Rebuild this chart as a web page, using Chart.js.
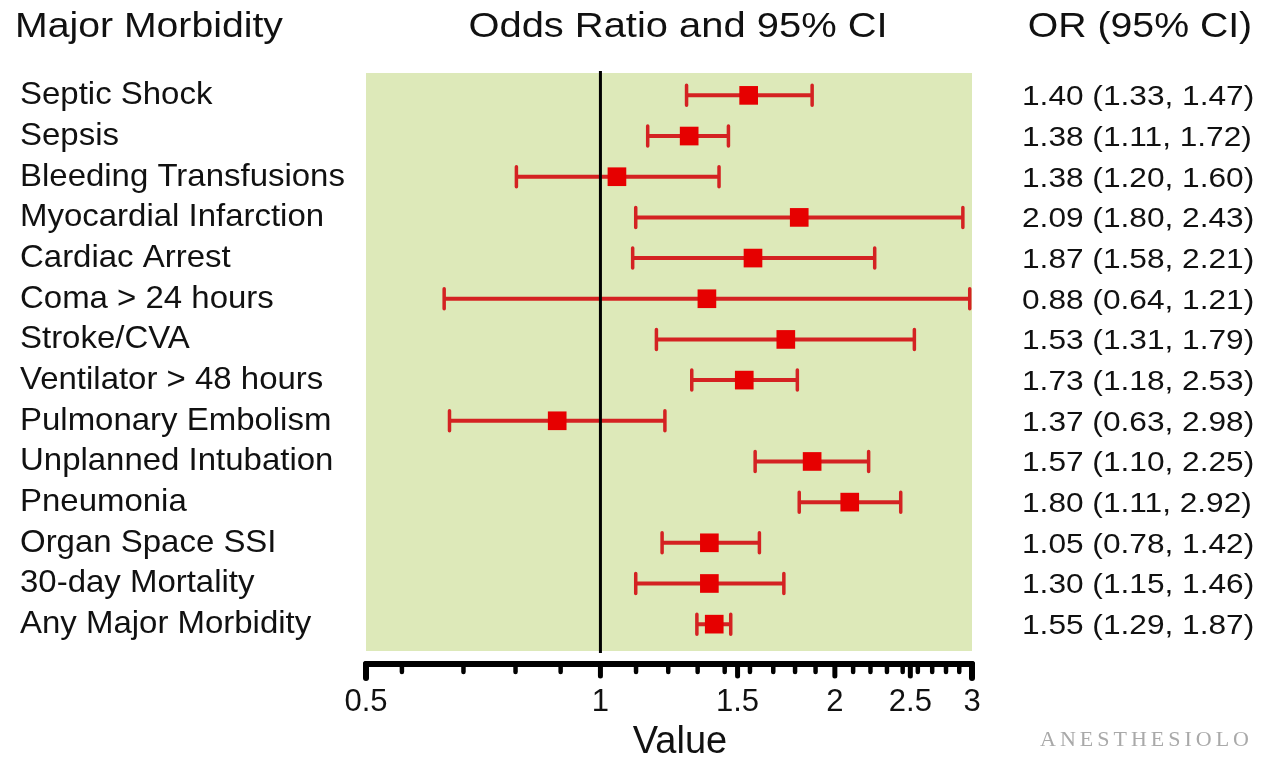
<!DOCTYPE html>
<html>
<head>
<meta charset="utf-8">
<title>Major Morbidity - Odds Ratio and 95% CI</title>
<script src="https://cdn.jsdelivr.net/npm/chart.js"></script>
<style>
    html, body { margin: 0; padding: 0; background: #ffffff; }
    #chart { display: block; }
</style>
</head>
<body>
<canvas id="chart" width="1266" height="758"></canvas>
<script>
// Rows, top to bottom
const categories = [
    'Septic Shock', 'Sepsis', 'Bleeding Transfusions', 'Myocardial Infarction',
    'Cardiac Arrest', 'Coma > 24 hours', 'Stroke/CVA', 'Ventilator > 48 hours',
    'Pulmonary Embolism', 'Unplanned Intubation', 'Pneumonia', 'Organ Space SSI',
    '30-day Mortality', 'Any Major Morbidity'
];

// Plotted odds ratios and CI bounds, one per row (top to bottom)
const oddsRatio = [1.55, 1.30, 1.05, 1.80, 1.57, 1.37, 1.73, 1.53, 0.88, 1.87, 2.09, 1.38, 1.38, 1.40];
const ciLower   = [1.29, 1.15, 0.78, 1.11, 1.10, 0.63, 1.18, 1.31, 0.64, 1.58, 1.80, 1.20, 1.11, 1.33];
const ciUpper   = [1.87, 1.46, 1.42, 2.92, 2.25, 2.98, 2.53, 1.79, 1.21, 2.21, 2.43, 1.60, 1.72, 1.47];

// x axis ticks (log scale)
const majorTicks = [0.5, 1, 1.5, 2, 2.5, 3];
const minorTicks = [0.556, 0.667, 0.778, 0.889, 1.111, 1.222, 1.333, 1.444, 1.556, 1.667,
                    1.778, 1.889, 2.111, 2.222, 2.333, 2.444, 2.556, 2.667, 2.778, 2.889];

const FONT = '"Liberation Sans", Arial, Helvetica, sans-serif';
const GREEN = '#dde9b9';
const RED_BOX = '#e60000';
const RED_LINE = '#d42222';

// the OR column in the figure runs bottom-up relative to the rows
const ciText = categories.map((c, i) => {
    const j = categories.length - 1 - i;
    return oddsRatio[j].toFixed(2) + ' (' + ciLower[j].toFixed(2) + ', ' + ciUpper[j].toFixed(2) + ')';
});

function wideText(ctx, text, x, y, size, sx, align) {
    ctx.save();
    ctx.font = size + 'px ' + FONT;
    ctx.textBaseline = 'alphabetic';
    ctx.textAlign = align || 'left';
    ctx.translate(x, y);
    ctx.scale(sx, 1);
    ctx.fillText(text, 0, 0);
    ctx.restore();
}

const forestPlugin = {
    id: 'forest',
    beforeDatasetsDraw(chart) {
        const ctx = chart.ctx;
        const area = chart.chartArea;
        const xs = chart.scales.x;
        const ys = chart.scales.y;

        // plot background
        ctx.save();
        ctx.fillStyle = GREEN;
        ctx.fillRect(area.left, area.top, area.right - area.left, area.bottom - area.top);

        // confidence intervals
        ctx.strokeStyle = RED_LINE;
        ctx.lineCap = 'butt';
        categories.forEach((c, i) => {
            const y = ys.getPixelForValue(i);
            const x0 = xs.getPixelForValue(ciLower[i]);
            const x1 = xs.getPixelForValue(ciUpper[i]);
            ctx.lineWidth = 4;
            ctx.beginPath();
            ctx.moveTo(x0, y);
            ctx.lineTo(x1, y);
            ctx.stroke();
            ctx.lineWidth = 3.5;
            ctx.lineCap = 'round';
            ctx.beginPath();
            ctx.moveTo(x0, y - 10);
            ctx.lineTo(x0, y + 10);
            ctx.moveTo(x1, y - 10);
            ctx.lineTo(x1, y + 10);
            ctx.stroke();
            ctx.lineCap = 'butt';
        });

        // line of no effect
        const x1 = xs.getPixelForValue(1);
        ctx.strokeStyle = '#000000';
        ctx.lineWidth = 3;
        ctx.beginPath();
        ctx.moveTo(x1, area.top - 2);
        ctx.lineTo(x1, area.bottom + 2);
        ctx.stroke();
        ctx.restore();
    },
    afterDraw(chart) {
        const ctx = chart.ctx;
        const area = chart.chartArea;
        const xs = chart.scales.x;
        const ys = chart.scales.y;

        ctx.save();
        ctx.fillStyle = '#111111';

        // headers
        wideText(ctx, 'Major Morbidity', 15, 37, 35, 1.12, 'left');
        wideText(ctx, 'Odds Ratio and 95% CI', 678, 37, 35, 1.14, 'center');
        wideText(ctx, 'OR (95% CI)', 1140, 37, 35, 1.12, 'center');

        // row labels and OR text
        categories.forEach((c, i) => {
            const y = ys.getPixelForValue(i);
            wideText(ctx, c, 20, y + 9, 32, 1.03, 'left');
            wideText(ctx, ciText[i], 1022, y + 10, 28, 1.13, 'left');
        });

        // x axis
        const axisY = 664;
        ctx.strokeStyle = '#000000';
        ctx.lineCap = 'round';
        ctx.lineWidth = 6;
        ctx.beginPath();
        ctx.moveTo(area.left, axisY);
        ctx.lineTo(area.right, axisY);
        ctx.stroke();

        ctx.lineWidth = 4.5;
        minorTicks.forEach(v => {
            const x = xs.getPixelForValue(v);
            ctx.beginPath();
            ctx.moveTo(x, axisY);
            ctx.lineTo(x, axisY + 8);
            ctx.stroke();
        });
        majorTicks.forEach((v, k) => {
            const x = xs.getPixelForValue(v);
            const end = (k === 0 || k === majorTicks.length - 1);
            ctx.lineWidth = end ? 6 : 5;
            ctx.beginPath();
            ctx.moveTo(x, axisY);
            ctx.lineTo(x, axisY + (end ? 14 : 12));
            ctx.stroke();
            wideText(ctx, String(v), x, 711, 31, 1.0, 'center');
        });

        wideText(ctx, 'Value', 680, 753, 38, 1.0, 'center');

        // watermark
        ctx.fillStyle = '#a9a9a9';
        ctx.font = '22px "Liberation Serif", "DejaVu Serif", serif';
        ctx.textAlign = 'left';
        ctx.letterSpacing = '4px';
        ctx.fillText('ANESTHESIOLO', 1040, 746);
        ctx.restore();
    }
};

const ctx = document.getElementById('chart').getContext('2d');
new Chart(ctx, {
    type: 'scatter',
    data: {
        datasets: [{
            label: 'Odds Ratio',
            data: categories.map((c, i) => ({ x: oddsRatio[i], y: i })),
            pointStyle: 'rect',
            pointRadius: 13.2,
            pointHoverRadius: 13.2,
            backgroundColor: RED_BOX,
            borderColor: RED_BOX,
            borderWidth: 0
        }]
    },
    options: {
        responsive: false,
        animation: false,
        layout: { padding: { left: 366, right: 294, top: 73, bottom: 107 } },
        plugins: {
            legend: { display: false },
            tooltip: { enabled: false }
        },
        scales: {
            x: { type: 'logarithmic', min: 0.5, max: 3, display: false },
            y: { type: 'linear', min: -0.55, max: 13.66, reverse: true, display: false }
        }
    },
    plugins: [forestPlugin]
});
</script>
</body>
</html>
